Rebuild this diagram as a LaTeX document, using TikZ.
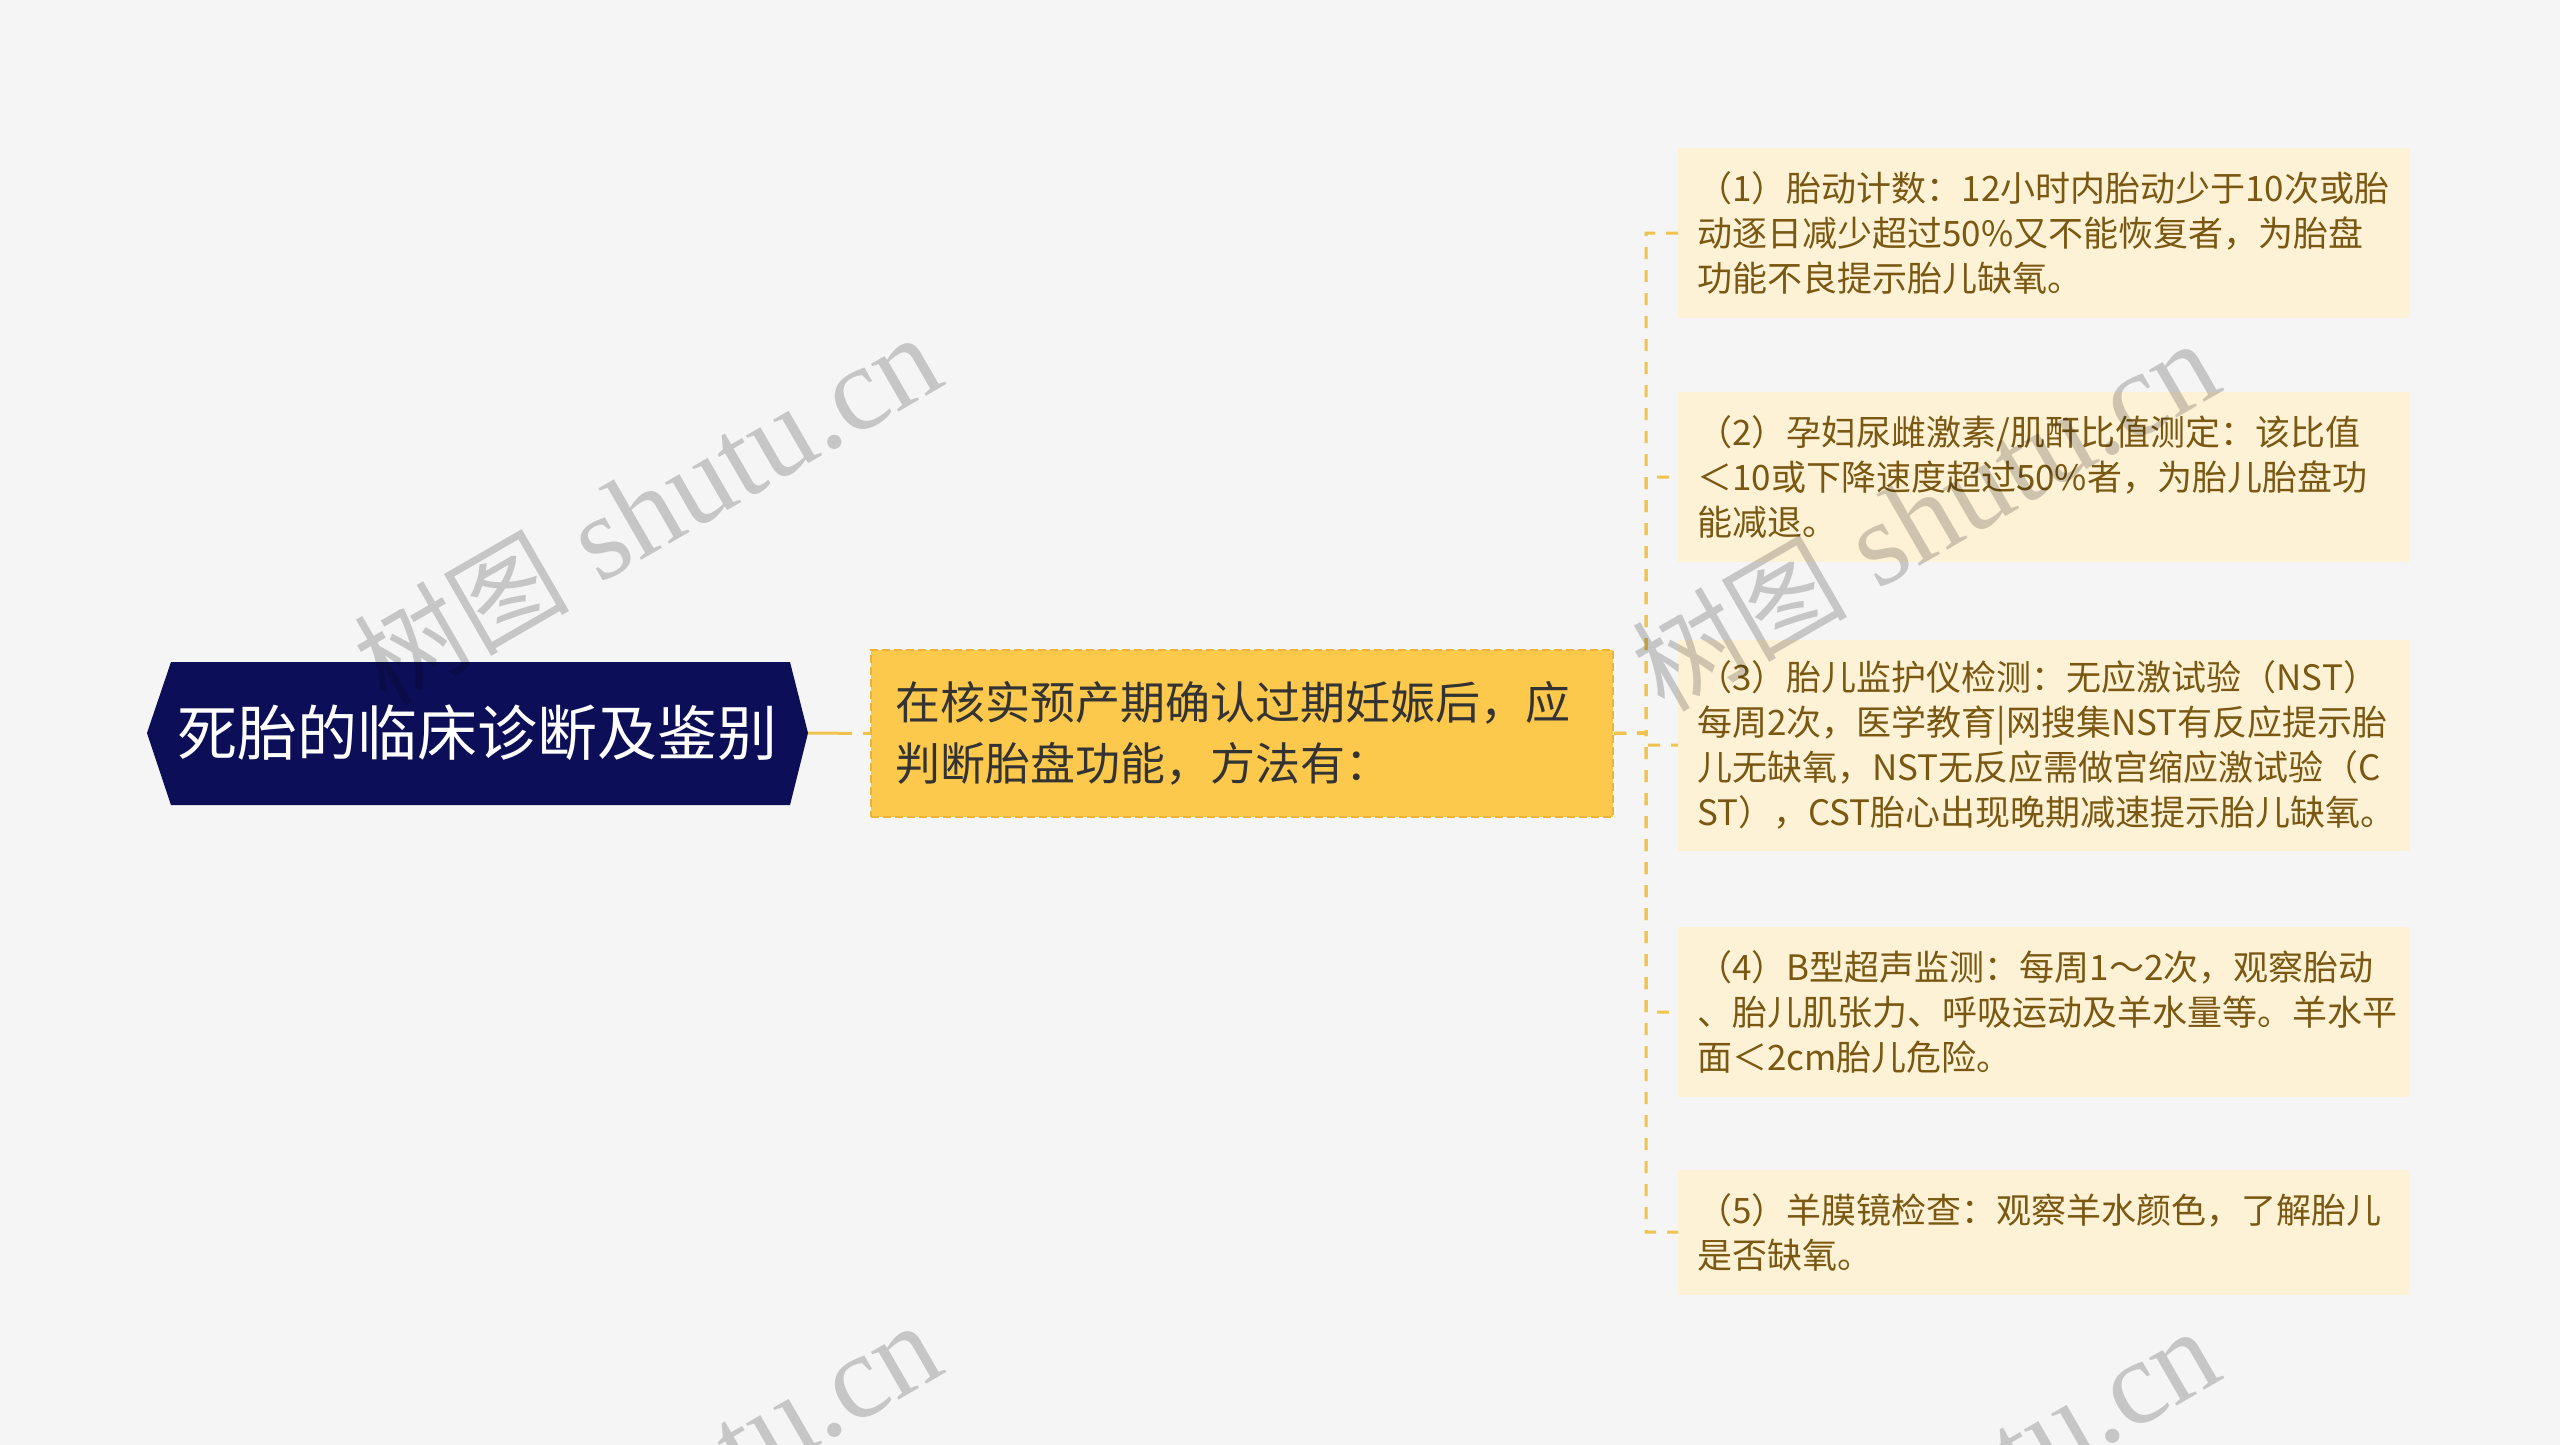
\documentclass[tikz,border=0pt]{standalone}
\usepackage{fontspec}
\newfontfamily\cjk{Noto Sans CJK SC}
\newfontfamily\wmserif{Liberation Serif}
\definecolor{bg}{HTML}{F5F5F5}
\definecolor{rootfill}{HTML}{0C0F58}
\definecolor{linecol}{HTML}{F0C250}
\definecolor{midfill}{HTML}{FDC94C}
\definecolor{midborder}{HTML}{EAB33A}
\definecolor{midtext}{HTML}{333333}
\definecolor{leaffill}{HTML}{FEF2D6}
\definecolor{leaftext}{HTML}{7A5812}
\tikzset{
  conn/.style={draw=linecol, line width=3pt, dash pattern=on 12pt off 11pt},
  leafbox/.style={fill=leaffill, text=leaftext, anchor=west, align=left,
    text width=694pt, inner xsep=19pt, inner ysep=0pt,
    font=\cjk\fontsize{35pt}{45pt}\selectfont},
  midbox/.style={fill=midfill, draw=midborder, line width=2pt, dash pattern=on 8pt off 4pt,
    text=midtext, align=left, text width=694pt, inner xsep=24pt, inner ysep=0pt,
    minimum height=167pt, font=\cjk\fontsize{45pt}{61pt}\selectfont},
  wm/.style={text=black, text opacity=0.19, rotate=30, inner sep=0pt}
}
\begin{document}
\begin{tikzpicture}[x=1pt,y=-1pt]
\useasboundingbox (0,0) rectangle (2560,1445);
\fill[bg] (0,0) rectangle (2560,1445);

% root hexagon
\fill[rootfill] (147,733) -- (171,662) -- (790,662) -- (808,733) -- (790,805) -- (171,805) -- cycle;
\node[text=white, font=\cjk\fontsize{60pt}{70pt}\selectfont, inner sep=0pt] (root) at (477,733) {死胎的临床诊断及鉴别};
\coordinate (rootE) at (808,733);

% middle node
\node[midbox] (mid) at (1242,733.5) {在核实预产期确认过期妊娠后，应\\判断胎盘功能，方法有：};

% leaves
\node[leafbox, minimum height=170pt] (l1) at (1678,233) {（1）胎动计数：12小时内胎动少于10次或胎\\动逐日减少超过50\%又不能恢复者，为胎盘\\功能不良提示胎儿缺氧。};
\node[leafbox, minimum height=170pt] (l2) at (1678,477) {（2）孕妇尿雌激素/肌酐比值测定：该比值\\＜10或下降速度超过50\%者，为胎儿胎盘功\\能减退。};
\node[leafbox, minimum height=211pt] (l3) at (1678,745) {（3）胎儿监护仪检测：无应激试验（NST）\\每周2次，医学教育|网搜集NST有反应提示胎\\儿无缺氧，NST无反应需做宫缩应激试验（C\\ST），CST胎心出现晚期减速提示胎儿缺氧。};
\node[leafbox, minimum height=170pt] (l4) at (1678,1012) {（4）B型超声监测：每周1～2次，观察胎动\\、胎儿肌张力、呼吸运动及羊水量等。羊水平\\面＜2cm胎儿危险。};
\node[leafbox, minimum height=125pt] (l5) at (1678,1232) {（5）羊膜镜检查：观察羊水颜色，了解胎儿\\是否缺氧。};

% connectors
\draw[draw=linecol, line width=3pt, dash pattern=on 44pt off 11pt] (rootE) -- (mid.west);
\coordinate (spine) at (1646,733);
\foreach \n in {l1,l2,l3,l4,l5}{
  \draw[conn] (mid.east) -- (spine) |- (\n.west);
}

% watermarks
\begin{scope}
\clip (0,0) rectangle (2560,1445);
\foreach \cx/\cy in {647/510, 1925/516, 647/1498, 1925/1504}{
  \node[wm] at (\cx,\cy) {{\cjk\fontsize{108pt}{118pt}\selectfont 树图}{\wmserif\fontsize{120pt}{130pt}\selectfont\ shutu.cn}};
}
\end{scope}
\end{tikzpicture}
\end{document}
